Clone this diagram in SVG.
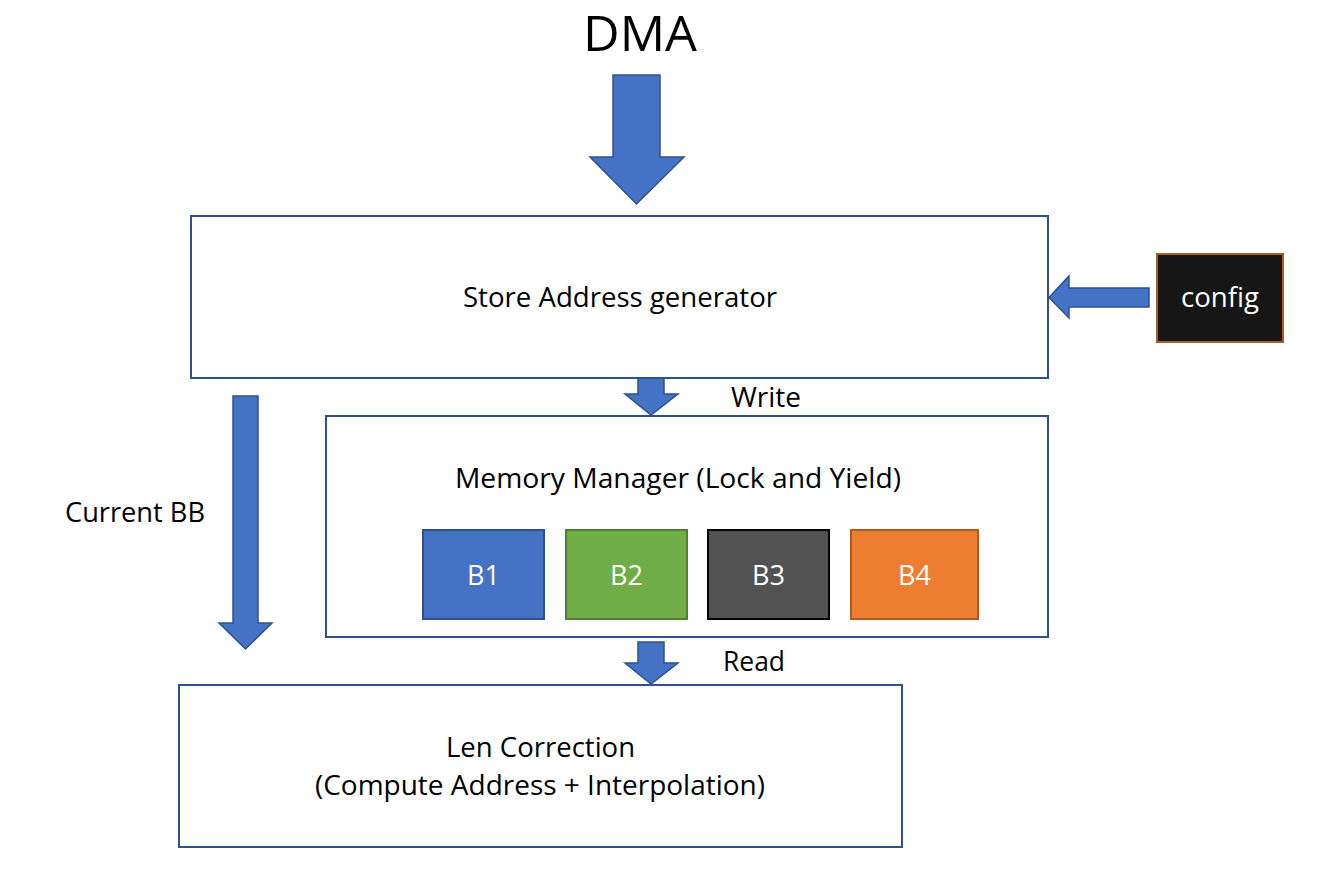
<svg xmlns="http://www.w3.org/2000/svg" width="1341" height="886" viewBox="0 0 1341 886">
<style>
text{font-family:"Open Sans","Noto Sans","DejaVu Sans",sans-serif;font-size:26.5px;fill:#000;text-anchor:middle}
.w{fill:#fff}
.lbl{font-size:28px}
.b{font-size:28px;fill:#fff}
.box{fill:#fff;stroke:#2F528F;stroke-width:2}
.arr{fill:#4472C4;stroke:#2F528F;stroke-width:1.5;stroke-linejoin:miter}
</style>
<rect width="1341" height="886" fill="#fff"/>
<g id="connectors">
<path id="dma-arrow" class="arr" d="M613,75 H660 V157 H684 L636.5,204 L590,157 H613 Z"/>
<path id="config-arrow" class="arr" d="M1149,288 H1069 V276 L1049,297.5 L1069,318 V307 H1149 Z"/>
<path id="write-arrow" class="arr" d="M638,373 H664 V394 H678 L651,415 L625,394 H638 Z"/>
<path id="bb-arrow" class="arr" d="M233,396 H258 V623 H272 L245.5,649 L219,623 H233 Z"/>
<path id="read-arrow" class="arr" d="M638,642 H664 V663 H678 L651,684 L625,663 H638 Z"/>
<text class="lbl" x="766" y="407" textLength="70" lengthAdjust="spacingAndGlyphs">Write</text>
<text class="lbl" x="754" y="671" textLength="62" lengthAdjust="spacingAndGlyphs">Read</text>
<text x="135" y="522" textLength="140" lengthAdjust="spacingAndGlyphs">Current BB</text>
</g>
<g id="dma">
<text x="640" y="51" style="font-size:49px" textLength="114" lengthAdjust="spacingAndGlyphs">DMA</text>
</g>
<g id="store">
<rect class="box" x="191" y="216" width="857" height="162"/>
<text x="620" y="307" textLength="314" lengthAdjust="spacingAndGlyphs">Store Address generator</text>
</g>
<g id="config">
<rect x="1157" y="254" width="126" height="88" fill="#161616" stroke="#AE5A21" stroke-width="2"/>
<text class="w" x="1220" y="307" textLength="78" lengthAdjust="spacingAndGlyphs">config</text>
</g>
<g id="memory">
<rect class="box" x="326" y="416" width="722" height="221"/>
<text x="678" y="488" textLength="446" lengthAdjust="spacingAndGlyphs">Memory Manager (Lock and Yield)</text>
</g>
<g id="b1">
<rect x="423" y="530" width="121" height="89" fill="#4472C4" stroke="#2F528F" stroke-width="2"/>
<text class="b" x="483.5" y="585" textLength="33" lengthAdjust="spacingAndGlyphs">B1</text>
</g>
<g id="b2">
<rect x="566" y="530" width="121" height="89" fill="#70AD47" stroke="#507E32" stroke-width="2"/>
<text class="b" x="626.5" y="585" textLength="33" lengthAdjust="spacingAndGlyphs">B2</text>
</g>
<g id="b3">
<rect x="708" y="530" width="121" height="89" fill="#525252" stroke="#000" stroke-width="2"/>
<text class="b" x="768.5" y="585" textLength="33" lengthAdjust="spacingAndGlyphs">B3</text>
</g>
<g id="b4">
<rect x="851" y="530" width="127" height="89" fill="#ED7D31" stroke="#AE5A21" stroke-width="2"/>
<text class="b" x="914.5" y="585" textLength="33" lengthAdjust="spacingAndGlyphs">B4</text>
</g>
<g id="len">
<rect class="box" x="179" y="685" width="723" height="162"/>
<text x="540.5" y="757" textLength="189" lengthAdjust="spacingAndGlyphs">Len Correction</text>
<text x="540" y="795" textLength="450" lengthAdjust="spacingAndGlyphs">(Compute Address + Interpolation)</text>
</g>
</svg>
